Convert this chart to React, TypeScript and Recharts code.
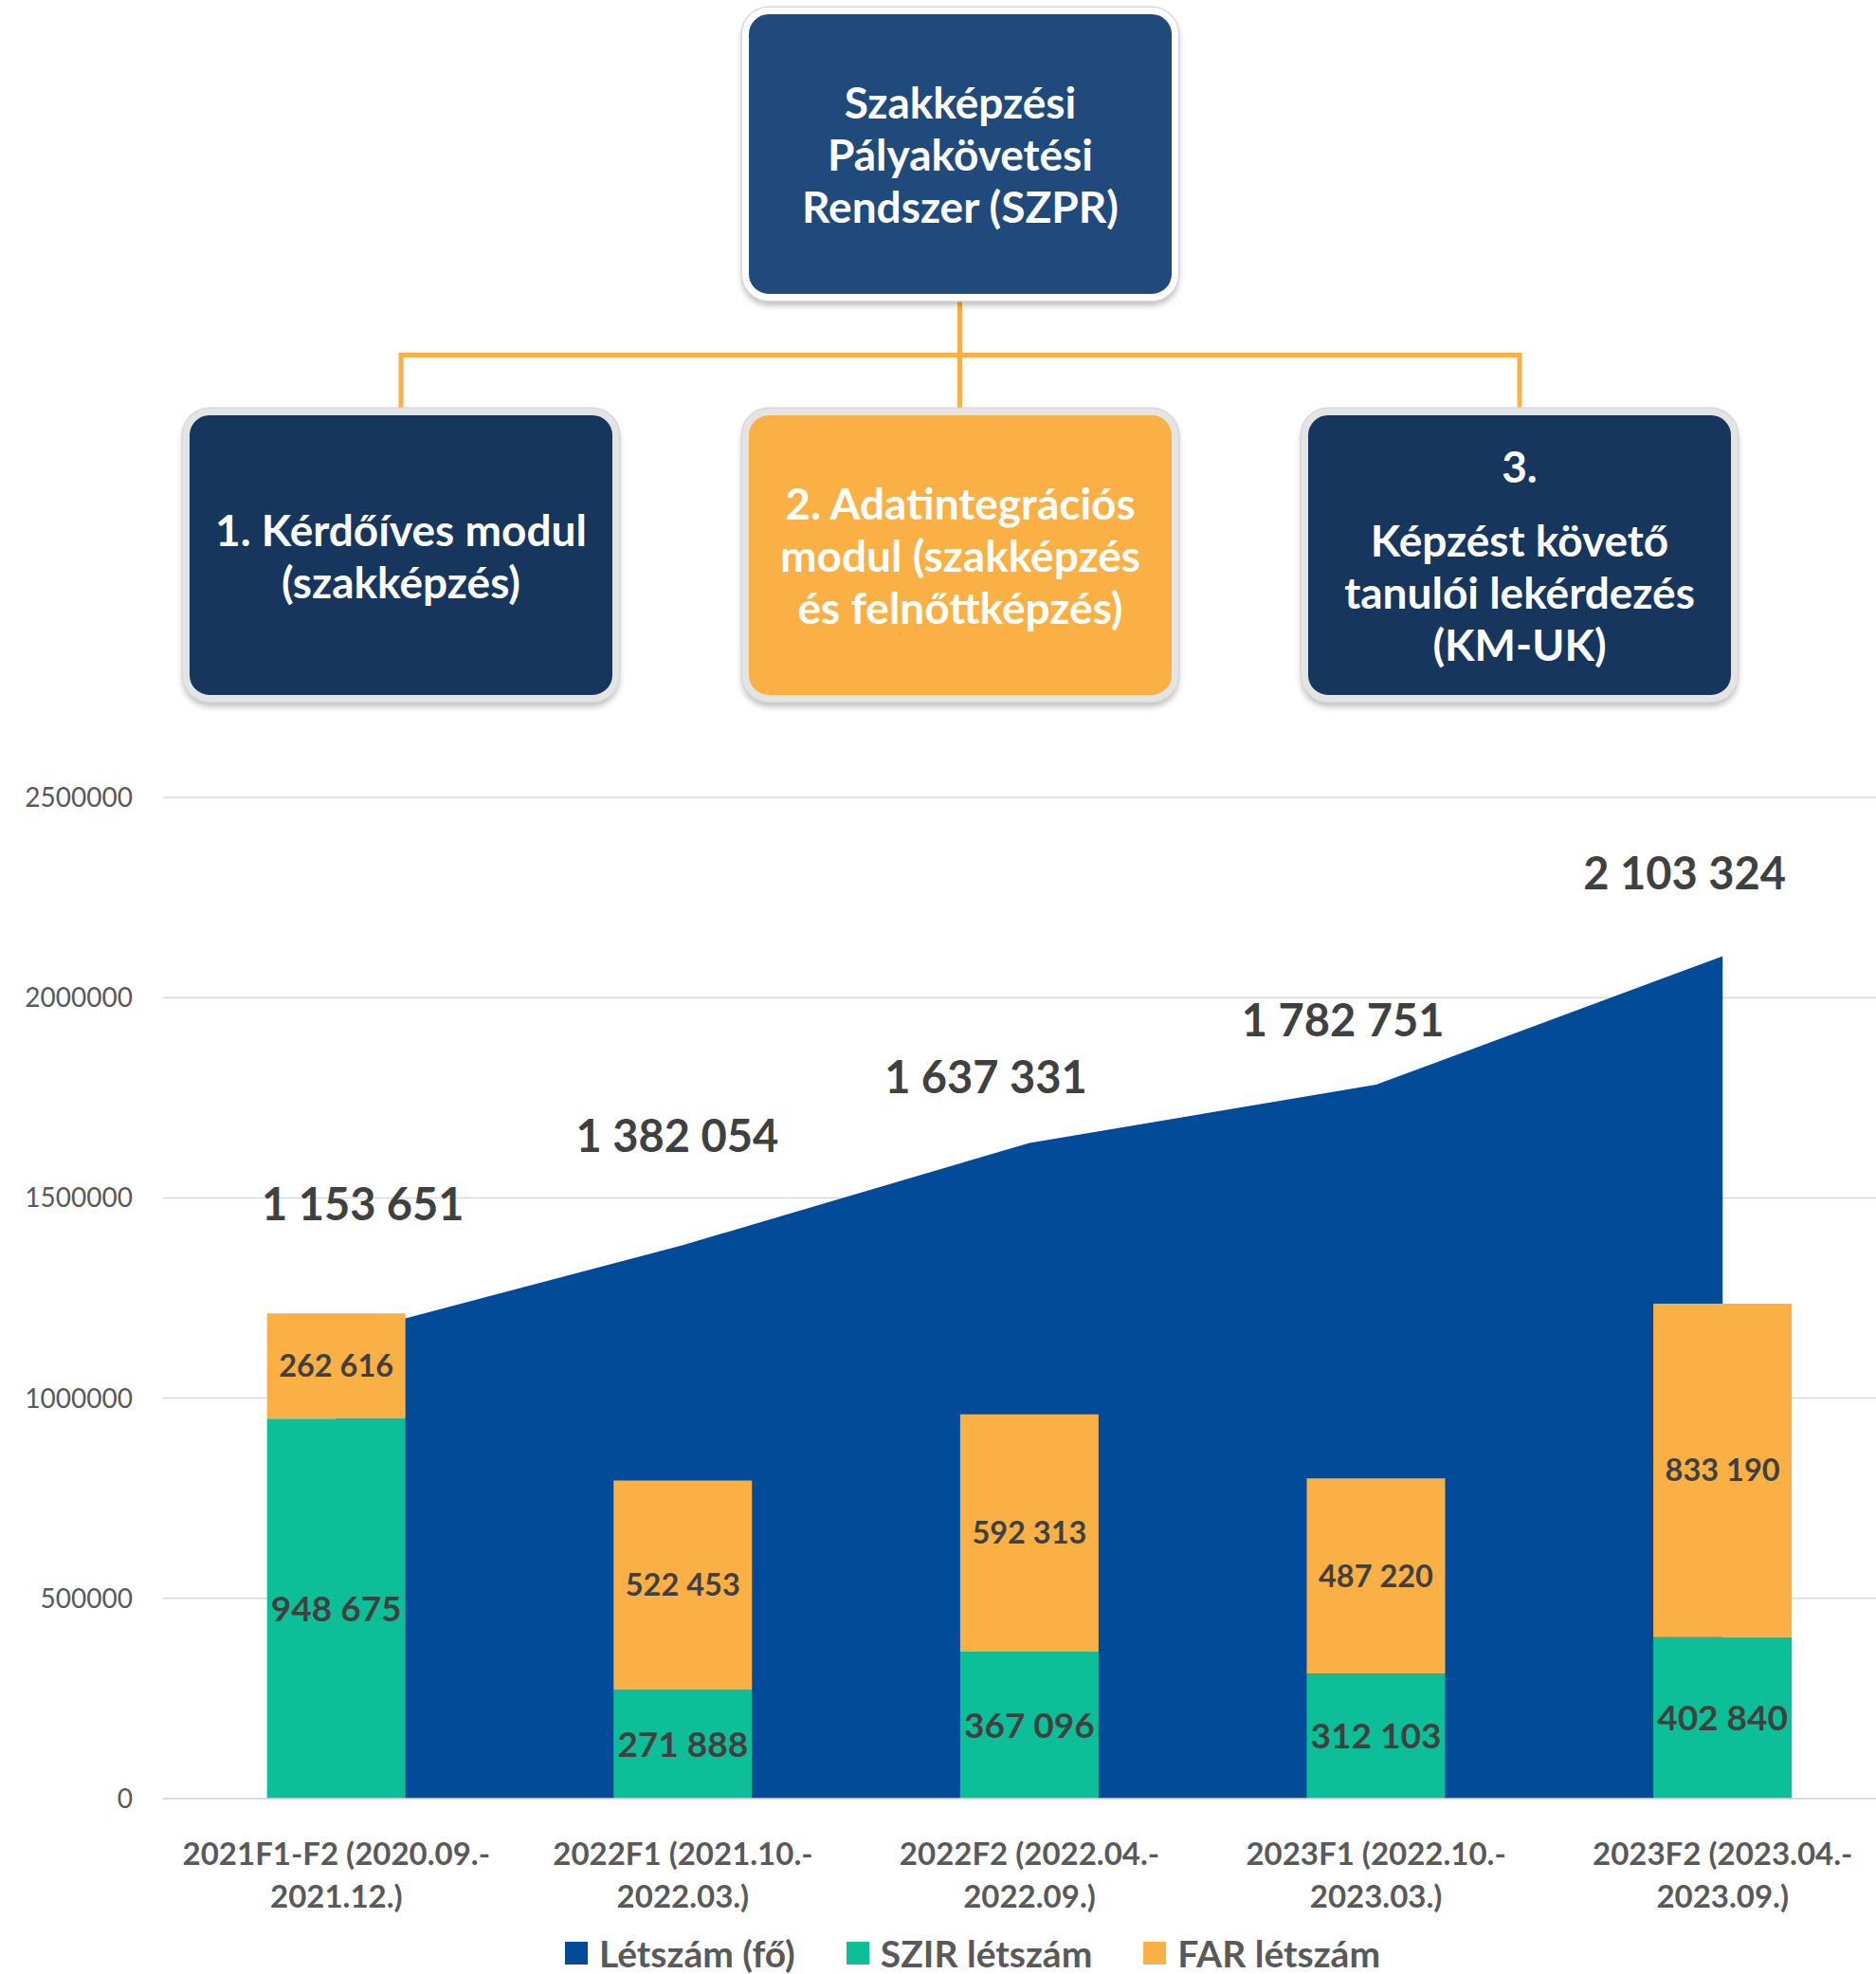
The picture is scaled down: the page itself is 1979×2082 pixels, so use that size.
import {
  Area,
  Bar,
  CartesianGrid,
  ComposedChart,
  LabelList,
  Legend,
  XAxis,
  YAxis,
} from "recharts";

const periods = ["2021F1-F2", "2022F1", "2022F2", "2023F1", "2023F2"];
const periodStart = ["2020.09.", "2021.10.", "2022.04.", "2022.10.", "2023.04."];
const periodEnd = ["2021.12.", "2022.03.", "2022.09.", "2023.03.", "2023.09."];

const totals = [1153651, 1382054, 1637331, 1782751, 2103324];
const szirCounts = [948675, 271888, 367096, 312103, 402840];
const farCounts = [262616, 522453, 592313, 487220, 833190];

const yTicks = [0, 500000, 1000000, 1500000, 2000000, 2500000];
const legendNames = ["Létszám (fő)", "SZIR létszám", "FAR létszám"];

// where the total labels sit relative to their point (px)
const totalLabelShift = [
  { dx: 28, dy: -123 },
  { dx: -6, dy: -98 },
  { dx: -46, dy: -52 },
  { dx: -35, dy: -51 },
  { dx: -40, dy: -71 },
];

const COLORS = {
  total: "#024B98",
  szir: "#0DBF98",
  far: "#FBB045",
  topBox: "#214A7C",
  navyBox: "#17365E",
  line: "#FBB045",
  label: "#404040",
  axis: "#595959",
};
const legendColors = [COLORS.total, COLORS.szir, COLORS.far];

const chartData = periods.map((p, i) => ({
  name: p,
  total: totals[i],
  szir: szirCounts[i],
  far: farCounts[i],
}));

const fmt = (v: number) => String(v).replace(/\B(?=(\d{3})+(?!\d))/g, " ");

function PeriodTick({ x, y, payload }: any) {
  const i = periods.indexOf(payload.value);
  return (
    <text x={x} textAnchor="middle" fill={COLORS.axis} fontSize={33} fontWeight={700}>
      <tspan x={x} y={y + 70}>{`${periods[i]} (${periodStart[i]}-`}</tspan>
      <tspan x={x} y={y + 115}>{`${periodEnd[i]})`}</tspan>
    </text>
  );
}

function TotalLabel(props: any) {
  const { x, y, value } = props;
  const i = props.index ?? totals.indexOf(value);
  const s = totalLabelShift[i] || { dx: 0, dy: -60 };
  return (
    <text
      x={x + s.dx}
      y={y + s.dy}
      textAnchor="middle"
      fill={COLORS.label}
      fontSize={47}
      fontWeight={700}
    >
      {fmt(value)}
    </text>
  );
}

function LegendRow() {
  return (
    <div
      style={{
        display: "flex",
        justifyContent: "center",
        alignItems: "center",
        gap: 54,
        height: 48,
      }}
    >
      {legendNames.map((n, i) => (
        <div key={n} style={{ display: "flex", alignItems: "center" }}>
          <span
            style={{ width: 24, height: 24, background: legendColors[i], marginRight: 12 }}
          />
          <span
            style={{ fontSize: 39, fontWeight: 700, color: COLORS.axis, lineHeight: "48px" }}
          >
            {n}
          </span>
        </div>
      ))}
    </div>
  );
}

type BoxProps = {
  left: number;
  top: number;
  bg: string;
  border: string;
  lines: string[];
  gapAfterFirst?: number;
};

function OrgBox({ left, top, bg, border, lines, gapAfterFirst }: BoxProps) {
  return (
    <div
      style={{
        position: "absolute",
        left: left - 7,
        top: top - 7,
        width: 460,
        height: 309,
        boxSizing: "border-box",
        border: `7px solid ${border}`,
        borderRadius: 28,
        background: bg,
        boxShadow: "0 0 0 1.5px #d8d8d8, 0 5px 7px rgba(0,0,0,0.28)",
        display: "flex",
        flexDirection: "column",
        justifyContent: "center",
        alignItems: "center",
        color: "#fff",
        fontWeight: 700,
        fontSize: 46,
        lineHeight: "55px",
        textAlign: "center",
        whiteSpace: "nowrap",
      }}
    >
      {lines.map((l, i) => (
        <div key={i} style={{ marginBottom: i === 0 && gapAfterFirst ? gapAfterFirst : 0 }}>
          {l}
        </div>
      ))}
    </div>
  );
}

export default function App() {
  return (
    <div
      style={{
        position: "absolute",
        left: 0,
        top: 0,
        width: 1979,
        height: 2082,
        overflow: "hidden",
        background: "#fff",
        fontFamily: "Lato, 'Open Sans', sans-serif",
      }}
    >
      <svg
        width={1979}
        height={440}
        style={{ position: "absolute", left: 0, top: 0 }}
      >
        <g stroke={COLORS.line} strokeWidth={5} fill="none">
          <line x1={1012.5} y1={300} x2={1012.5} y2={432} />
          <line x1={423} y1={374.5} x2={1603} y2={374.5} />
          <line x1={423} y1={372} x2={423} y2={432} />
          <line x1={1603} y1={372} x2={1603} y2={432} />
        </g>
      </svg>

      <OrgBox
        left={790}
        top={15}
        bg={COLORS.topBox}
        border="#ffffff"
        lines={["Szakképzési", "Pályakövetési", "Rendszer (SZPR)"]}
      />
      <OrgBox
        left={200}
        top={438}
        bg={COLORS.navyBox}
        border="#e4e4e4"
        lines={["1. Kérdőíves modul", "(szakképzés)"]}
      />
      <OrgBox
        left={790}
        top={438}
        bg={COLORS.far}
        border="#e4e4e4"
        lines={["2. Adatintegrációs", "modul (szakképzés", "és felnőttképzés)"]}
      />
      <OrgBox
        left={1380}
        top={438}
        bg={COLORS.navyBox}
        border="#e4e4e4"
        lines={["3.", "Képzést követő", "tanulói lekérdezés", "(KM-UK)"]}
        gapAfterFirst={23}
      />

      <div style={{ position: "absolute", left: 0, top: 780 }}>
        <ComposedChart
          width={2000}
          height={1302}
          data={chartData}
          margin={{ top: 61, right: 0, bottom: 65, left: 0 }}
          barCategoryGap="30%"
        >
          <CartesianGrid vertical={false} stroke="#d9d9d9" strokeWidth={1.5} />
          <XAxis
            dataKey="name"
            axisLine={{ stroke: "#d9d9d9", strokeWidth: 1.5 }}
            tickLine={false}
            tickSize={0}
            tickMargin={0}
            height={120}
            interval={0}
            tick={<PeriodTick />}
          />
          <YAxis
            width={172}
            domain={[0, 2500000]}
            ticks={yTicks}
            axisLine={false}
            tickLine={false}
            tickSize={0}
            tickMargin={32}
            tick={{ fill: COLORS.axis, fontSize: 28 }}
            tickFormatter={(v) => String(v)}
          />
          <Area
            type="linear"
            dataKey="total"
            name={legendNames[0]}
            fill={COLORS.total}
            fillOpacity={1}
            stroke="none"
            isAnimationActive={false}
          >
            <LabelList dataKey="total" content={<TotalLabel />} />
          </Area>
          <Bar
            dataKey="szir"
            name={legendNames[1]}
            stackId="s"
            fill={COLORS.szir}
            isAnimationActive={false}
          >
            <LabelList
              dataKey="szir"
              position="center"
              formatter={(v: any) => fmt(Number(v))}
              fill={COLORS.label}
              fontSize={37}
              fontWeight={700}
            />
          </Bar>
          <Bar
            dataKey="far"
            name={legendNames[2]}
            stackId="s"
            fill={COLORS.far}
            isAnimationActive={false}
          >
            <LabelList
              dataKey="far"
              position="center"
              formatter={(v: any) => fmt(Number(v))}
              fill={COLORS.label}
              fontSize={32.5}
              fontWeight={700}
            />
          </Bar>
          <Legend
            layout="horizontal"
            verticalAlign="middle"
            align="center"
            wrapperStyle={{ top: 1256, left: 0, width: 2052, height: 48 }}
            content={() => <LegendRow />}
          />
        </ComposedChart>
      </div>
    </div>
  );
}
